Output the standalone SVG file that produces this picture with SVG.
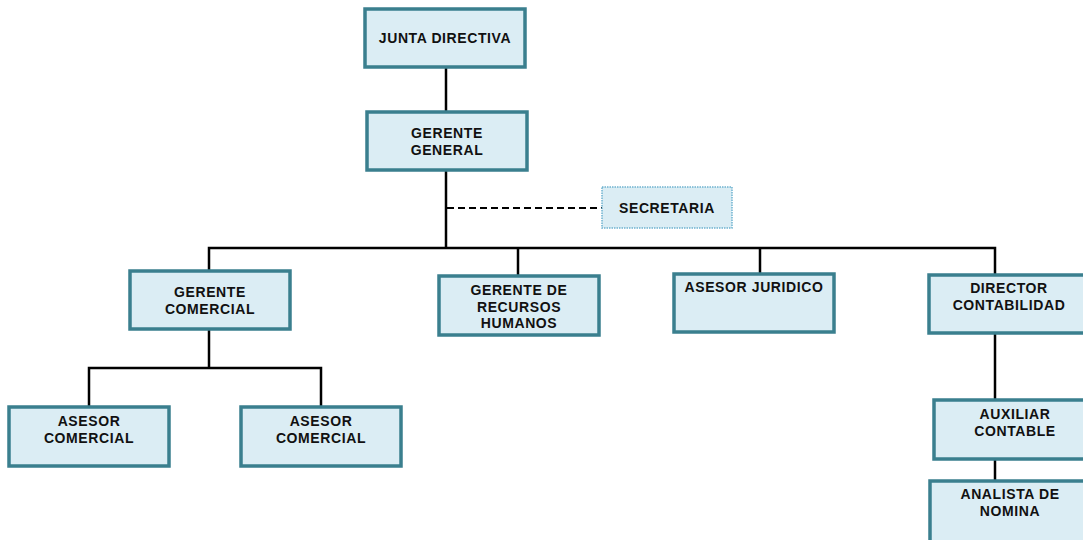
<svg xmlns="http://www.w3.org/2000/svg" width="1083" height="540" viewBox="0 0 1083 540">
<style>
.box{fill:#dbedf4;stroke:#3a7f8e;stroke-width:3.5}
.sec{fill:#dbedf4;stroke:#6fb3cf;stroke-width:1.5;stroke-dasharray:1.5 1}
.t{font-family:"Liberation Sans",Arial,sans-serif;font-weight:bold;font-size:14px;letter-spacing:0.6px;fill:#111;text-anchor:middle}
.c{stroke:#000;stroke-width:2.5;fill:none}
.d{stroke:#000;stroke-width:1.8;fill:none;stroke-dasharray:7 4}
</style>
<rect width="1083" height="540" fill="#fff"/>
<g id="connectors">
<line class="c" x1="446" y1="67" x2="446" y2="112"/>
<line class="c" x1="446" y1="170" x2="446" y2="249"/>
<line class="d" x1="447" y1="208" x2="602" y2="208"/>
<polyline class="c" points="209,271 209,248 995,248 995,275"/>
<line class="c" x1="518" y1="248" x2="518" y2="276"/>
<line class="c" x1="760" y1="248" x2="760" y2="274"/>
<line class="c" x1="209" y1="329" x2="209" y2="368"/>
<polyline class="c" points="89,407 89,368 321,368 321,407"/>
<line class="c" x1="995" y1="333" x2="995" y2="400"/>
<line class="c" x1="995" y1="459" x2="995" y2="481"/>
</g>
<g id="junta"><rect class="box" x="365" y="9" width="160" height="58"/><text class="t" x="445" y="43">JUNTA DIRECTIVA</text></g>
<g id="gerente-general"><rect class="box" x="367" y="112" width="160" height="58"/><text class="t" x="447" y="138">GERENTE</text><text class="t" x="447" y="155">GENERAL</text></g>
<g id="secretaria"><rect class="sec" x="602" y="187" width="130" height="41"/><text class="t" x="667" y="213">SECRETARIA</text></g>
<g id="gerente-comercial"><rect class="box" x="130" y="271" width="160" height="58"/><text class="t" x="210" y="297">GERENTE</text><text class="t" x="210" y="314">COMERCIAL</text></g>
<g id="rrhh"><rect class="box" x="439" y="276" width="160" height="59"/><text class="t" x="519" y="295">GERENTE DE</text><text class="t" x="519" y="312">RECURSOS</text><text class="t" x="519" y="328">HUMANOS</text></g>
<g id="juridico"><rect class="box" x="674" y="274" width="160" height="58"/><text class="t" x="754" y="292">ASESOR JURIDICO</text></g>
<g id="director"><rect class="box" x="929" y="275" width="160" height="58"/><text class="t" x="1009" y="293">DIRECTOR</text><text class="t" x="1009" y="310">CONTABILIDAD</text></g>
<g id="asesor1"><rect class="box" x="9" y="407" width="160" height="59"/><text class="t" x="89" y="426">ASESOR</text><text class="t" x="89" y="443">COMERCIAL</text></g>
<g id="asesor2"><rect class="box" x="241" y="407" width="160" height="59"/><text class="t" x="321" y="426">ASESOR</text><text class="t" x="321" y="443">COMERCIAL</text></g>
<g id="auxiliar"><rect class="box" x="934" y="400" width="160" height="59"/><text class="t" x="1015" y="419">AUXILIAR</text><text class="t" x="1015" y="436">CONTABLE</text></g>
<g id="analista"><rect class="box" x="930" y="481" width="160" height="62"/><text class="t" x="1010" y="499">ANALISTA DE</text><text class="t" x="1010" y="516">NOMINA</text></g>
</svg>
